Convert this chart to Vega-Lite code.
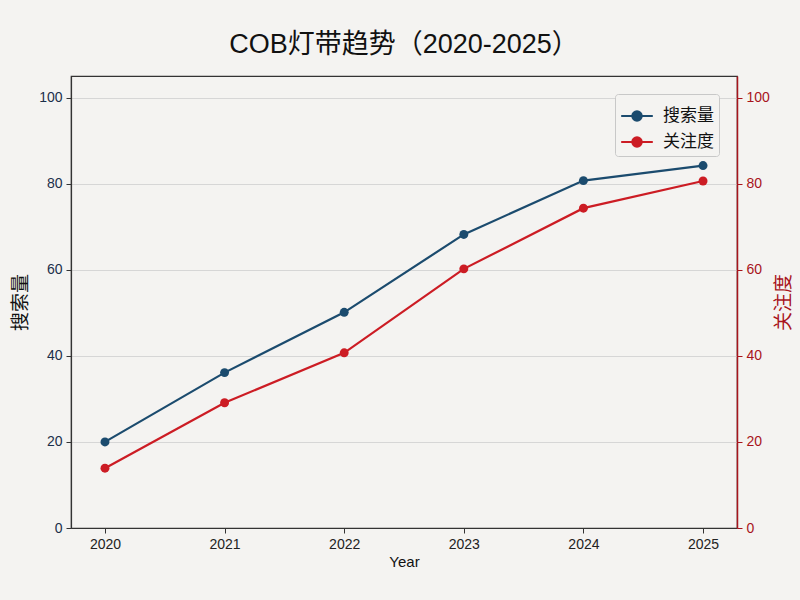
{
  "$schema": "https://vega.github.io/schema/vega-lite/v6.json",
  "description": "COB灯带趋势 dual axis line chart",
  "width": 666,
  "height": 452,
  "autosize": {"type": "none"},
  "padding": {"left": 71, "top": 76, "right": 63, "bottom": 72},
  "background": "#f4f3f1",
  "title": {
    "text": "COB灯带趋势（2020-2025）",
    "fontSize": 27,
    "font": "Liberation Sans, Noto Sans CJK SC",
    "fontWeight": "normal",
    "color": "#111111",
    "offset": 17
  },
  "data": {
    "values": [
      {"year": 2020, "series": "搜索量", "value": 20.0},
      {"year": 2021, "series": "搜索量", "value": 36.1},
      {"year": 2022, "series": "搜索量", "value": 50.1},
      {"year": 2023, "series": "搜索量", "value": 68.2},
      {"year": 2024, "series": "搜索量", "value": 80.7},
      {"year": 2025, "series": "搜索量", "value": 84.2},
      {"year": 2020, "series": "关注度", "value": 13.9},
      {"year": 2021, "series": "关注度", "value": 29.1},
      {"year": 2022, "series": "关注度", "value": 40.7},
      {"year": 2023, "series": "关注度", "value": 60.2},
      {"year": 2024, "series": "关注度", "value": 74.3},
      {"year": 2025, "series": "关注度", "value": 80.6}
    ]
  },
  "encoding": {
    "x": {
      "field": "year",
      "type": "quantitative",
      "scale": {"domain": [2019.716, 2025.284], "nice": false, "zero": false},
      "axis": {
        "values": [2020, 2021, 2022, 2023, 2024, 2025],
        "format": "d",
        "title": "Year",
        "grid": false,
        "titleFontSize": 15,
        "titleFontWeight": "normal",
        "titlePadding": 3
      }
    },
    "color": {
      "field": "series",
      "type": "nominal",
      "scale": {"domain": ["搜索量", "关注度"], "range": ["#1b4b6e", "#cc1c24"]},
      "legend": {
        "title": null,
        "orient": "top-right",
        "offsetX": 7,
        "offsetY": 8,
        "fillColor": "#f4f3f1",
        "strokeColor": "#c8c8c8",
        "cornerRadius": 3,
        "padding": 5,
        "labelFontSize": 17,
        "labelColor": "#111111",
        "labelOffset": 9,
        "symbolSize": 1000,
        "symbolStrokeWidth": 2,
        "symbolType": "M -1 0 L -0.3 0 M 0.3 0 L 1 0 M 0.3 0 A 0.3 0.3 0 1 1 -0.3 0 A 0.3 0.3 0 1 1 0.3 0 Z",
        "rowPadding": 0
      }
    }
  },
  "layer": [
    {
      "transform": [{"filter": "datum.series === '搜索量'"}],
      "mark": {"type": "line", "strokeWidth": 2.2, "point": {"filled": true, "size": 80}},
      "encoding": {
        "y": {
          "field": "value",
          "type": "quantitative",
          "scale": {"domain": [0, 105], "nice": false},
          "axis": {
            "values": [0, 20, 40, 60, 80, 100],
            "title": "搜索量",
            "titleFontSize": 19,
            "titleFontWeight": "normal",
            "titleColor": "#111111",
            "titlePadding": 8,
            "labelColor": "#1b2f4a",
            "grid": true,
            "gridColor": "#d6d6d6"
          }
        }
      }
    },
    {
      "transform": [{"filter": "datum.series === '关注度'"}],
      "mark": {"type": "line", "strokeWidth": 2.2, "point": {"filled": true, "size": 80}},
      "encoding": {
        "y": {
          "field": "value",
          "type": "quantitative",
          "scale": {"domain": [0, 105], "nice": false},
          "axis": {
            "orient": "right",
            "values": [0, 20, 40, 60, 80, 100],
            "title": "关注度",
            "titleAngle": 270,
            "titleFontSize": 19,
            "titleFontWeight": "normal",
            "titleColor": "#a8141c",
            "titlePadding": 24,
            "labelColor": "#a8141c",
            "tickColor": "#a8141c",
            "domainColor": "#a8141c",
            "domainWidth": 1.5,
            "grid": false
          }
        }
      }
    }
  ],
  "resolve": {"scale": {"y": "independent"}},
  "config": {
    "font": "Liberation Sans, Noto Sans CJK SC",
    "view": {"stroke": "#333333", "strokeWidth": 1.2},
    "axis": {
      "labelFontSize": 14,
      "labelColor": "#222222",
      "titleColor": "#111111",
      "domainColor": "#333333",
      "domainWidth": 1.2,
      "tickColor": "#333333",
      "tickSize": 5,
      "labelPadding": 4
    }
  }
}
